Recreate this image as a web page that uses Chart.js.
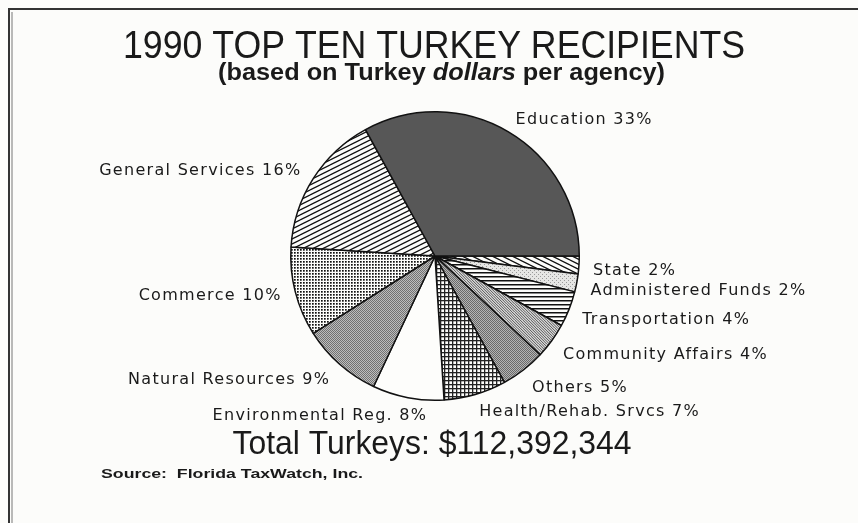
<!DOCTYPE html>
<html>
<head>
<meta charset="utf-8">
<script src="https://cdn.jsdelivr.net/npm/chart.js@4.4.1/dist/chart.umd.min.js"></script>
<style>
  html, body { margin: 0; padding: 0; background: #fcfcfa; }
  #chart { display: block; }
</style>
</head>
<body>
<canvas id="chart" width="858" height="523"></canvas>
<script>
// slices listed clockwise starting at 3 o'clock
const agencies = ['State', 'Administered Funds', 'Transportation', 'Community Affairs', 'Others',
  'Health/Rehab. Srvcs', 'Environmental Reg.', 'Natural Resources', 'Commerce', 'General Services', 'Education'];
const shares = [2, 2, 4, 4, 5, 7, 8, 9, 10, 16, 33];
const fills = ['backslash', 'lightdots', 'horizontal', 'steepgray', 'gray', 'grid', 'white', 'graycheck', 'dots', 'slash', 'dark'];

const titleText = '1990 TOP TEN TURKEY RECIPIENTS';
const totalText = 'Total Turkeys: $112,392,344';
const sourceText = 'Source:  Florida TaxWatch, Inc.';

function makePattern(kind) {
  if (kind === 'white') return '#fdfdfb';
  if (kind === 'dark') return '#575757';
  const c = document.createElement('canvas');
  const g = c.getContext('2d');
  const paper = (w, h, col) => {
    c.width = w; c.height = h;
    g.fillStyle = col || '#fdfdfb';
    g.fillRect(0, 0, w, h);
  };
  if (kind === 'slash' || kind === 'backslash') {
    // shallow hatch, one line per tile
    const w = 10, h = 5;
    paper(w, h);
    g.strokeStyle = '#111';
    g.lineWidth = 1.3;
    for (const dx of [-w, 0, w]) for (const dy of [-h, 0, h]) {
      g.beginPath();
      if (kind === 'slash') { g.moveTo(dx, h + dy); g.lineTo(w + dx, dy); }
      else { g.moveTo(dx, dy); g.lineTo(w + dx, h + dy); }
      g.stroke();
    }
  } else if (kind === 'horizontal') {
    paper(4, 4);
    g.fillStyle = '#111';
    g.fillRect(0, 0, 4, 1.5);
  } else if (kind === 'dots') {
    paper(3, 3);
    g.fillStyle = '#111';
    g.fillRect(0, 0, 1.7, 1.7);
  } else if (kind === 'lightdots') {
    paper(4, 4, '#e6e6e4');
    g.fillStyle = '#9a9a9a';
    g.fillRect(0, 0, 1, 1); g.fillRect(2, 2, 1, 1);
  } else if (kind === 'grid') {
    paper(4, 4);
    g.fillStyle = '#222';
    g.fillRect(0, 0, 4, 1.3);
    g.fillRect(0, 0, 1.3, 4);
  } else if (kind === 'gray' || kind === 'graycheck') {
    paper(2, 2, kind === 'gray' ? '#b4b4b4' : '#bdbdbd');
    g.fillStyle = kind === 'gray' ? '#6a6a6a' : '#727272';
    g.fillRect(0, 0, 1, 1); g.fillRect(1, 1, 1, 1);
  } else if (kind === 'steepgray') {
    paper(8, 8, '#d8d8d8');
    g.strokeStyle = '#555';
    g.lineWidth = 1;
    for (let k = -8; k <= 16; k += 2.7) {
      g.beginPath(); g.moveTo(k, 0); g.lineTo(k + 8, 8); g.stroke();
    }
  }
  return document.getElementById('chart').getContext('2d').createPattern(c, 'repeat');
}

// draw text squeezed or stretched horizontally to a given width
function fitText(ctx, text, x, y, width, align) {
  const w = ctx.measureText(text).width;
  const k = width / w;
  const left = align === 'center' ? x - width / 2 : x;
  ctx.save();
  ctx.textAlign = 'left';
  ctx.translate(left, y);
  ctx.scale(k, 1);
  ctx.fillText(text, 0, 0);
  ctx.restore();
}

// outside labels, placed from each arc's own angle and radius
const sliceLabels = {
  id: 'sliceLabels',
  afterDatasetsDraw(chart) {
    const ctx = chart.ctx;
    const meta = chart.getDatasetMeta(0);
    ctx.save();
    ctx.font = '16px "DejaVu Sans", sans-serif';
    ctx.letterSpacing = '1.3px';
    ctx.fillStyle = '#1a1a1a';
    ctx.textBaseline = 'middle';
    meta.data.forEach((arc, i) => {
      const p = arc.getProps(['x', 'y', 'startAngle', 'endAngle', 'outerRadius'], true);
      const mid = (p.startAngle + p.endAngle) / 2;
      const cos = Math.cos(mid), sin = Math.sin(mid);
      const r = p.outerRadius + 14;
      let x = p.x + r * cos;
      let y = p.y + r * sin;
      if (Math.abs(cos) < 0.3) {
        y += 4;
        if (cos < 0) x += 22;
      } else if (cos > 0) {
        y += sin > 0 ? 5 + 2 * sin : 0;
      } else {
        y += sin > 0 ? 10 * sin * sin : 0;
      }
      ctx.textAlign = cos >= 0 ? 'left' : 'right';
      ctx.fillText(agencies[i] + ' ' + shares[i] + '%', x, y);
    });
    ctx.restore();
  },
  afterDraw(chart) {
    const ctx = chart.ctx;
    ctx.save();
    ctx.fillStyle = '#1a1a1a';
    ctx.textBaseline = 'middle';

    ctx.font = '38px "Liberation Sans", sans-serif';
    fitText(ctx, titleText, 434, 48, 622, 'center');

    // subtitle with one italic word
    const parts = [['(based on Turkey ', 'bold 23px "Liberation Sans", sans-serif'],
                   ['dollars', 'italic bold 23px "Liberation Sans", sans-serif'],
                   [' per agency)', 'bold 23px "Liberation Sans", sans-serif']];
    let total = 0;
    parts.forEach(pt => { ctx.font = pt[1]; total += ctx.measureText(pt[0]).width; });
    const k = 447 / total;
    let x = 218;
    parts.forEach(pt => {
      ctx.font = pt[1];
      const w = ctx.measureText(pt[0]).width * k;
      fitText(ctx, pt[0], x, 74, w, 'left');
      x += w;
    });

    ctx.font = '33px "Liberation Sans", sans-serif';
    fitText(ctx, totalText, 432, 445, 399, 'center');

    ctx.font = 'bold 13px "Liberation Sans", sans-serif';
    fitText(ctx, sourceText, 101, 474, 262, 'left');

    // frame lines, top and left
    ctx.strokeStyle = '#333';
    ctx.lineWidth = 2;
    ctx.beginPath();
    ctx.moveTo(858, 9); ctx.lineTo(9, 9); ctx.lineTo(9, 523);
    ctx.stroke();
    ctx.lineWidth = 1;
    ctx.strokeStyle = '#777';
    ctx.beginPath();
    ctx.moveTo(12, 12); ctx.lineTo(12, 523);
    ctx.stroke();
    ctx.restore();
  }
};

const myChart = new Chart(document.getElementById('chart'), {
  type: 'pie',
  data: {
    labels: agencies,
    datasets: [{
      data: shares,
      backgroundColor: fills.map(makePattern),
      borderColor: '#111',
      borderWidth: 1.5
    }]
  },
  options: {
    responsive: false,
    animation: false,
    devicePixelRatio: 1,
    rotation: 90,
    layout: { padding: { left: 290, right: 278, top: 111, bottom: 122 } },
    plugins: {
      legend: { display: false },
      tooltip: { enabled: false }
    }
  },
  plugins: [sliceLabels]
});
</script>
</body>
</html>
